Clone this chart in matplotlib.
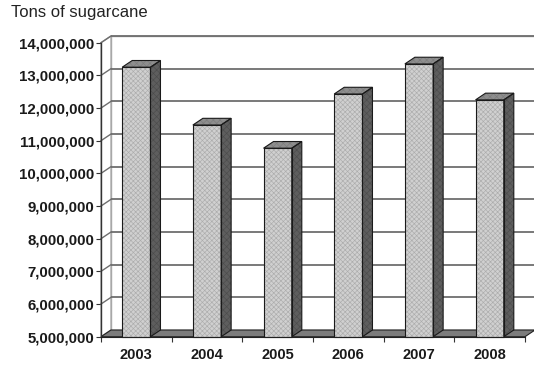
import matplotlib
matplotlib.use("Agg")
import matplotlib.pyplot as plt
from matplotlib.patches import Polygon
from matplotlib.ticker import FuncFormatter, FixedLocator

plt.rcParams['font.family'] = ['Liberation Sans', 'DejaVu Sans']
plt.rcParams['hatch.linewidth'] = 0.45

# Annual sugarcane production
years = ["2003", "2004", "2005", "2006", "2007", "2008"]
tons = [13250000, 11480000, 10770000, 12430000, 13350000, 12250000]
y_ticks = [5000000, 6000000, 7000000, 8000000, 9000000,
           10000000, 11000000, 12000000, 13000000, 14000000]

W, H, DPI = 534, 368, 100
fig = plt.figure(figsize=(W / DPI, H / DPI), dpi=DPI)

# front plane of the 3-D box, in pixels
x0_px, x1_px = 101, 525
ytop_px, ybot_px = 42.7, 336.7
ax = fig.add_axes([x0_px / W, (H - ybot_px) / H,
                   (x1_px - x0_px) / W, (ybot_px - ytop_px) / H])
n = len(years)
ymin, ymax = y_ticks[0], y_ticks[-1]
ax.set_xlim(0, n)
ax.set_ylim(ymin, ymax)

# depth of the box (oblique projection), converted to data units
depth_px = (10.0, 6.7)
ddx = depth_px[0] * n / (x1_px - x0_px)
ddy = depth_px[1] * (ymax - ymin) / (ybot_px - ytop_px)


def poly(pts, **kw):
    p = Polygon(pts, closed=True, clip_on=False, **kw)
    ax.add_patch(p)
    return p


wall_edge = '#a8a8a8'
grid_col = '#6e6e6e'

# back wall and left wall
poly([(ddx, ymin + ddy), (n + ddx, ymin + ddy), (n + ddx, ymax + ddy), (ddx, ymax + ddy)],
     facecolor='white', edgecolor=wall_edge, lw=1.0, zorder=1)
poly([(0, ymin), (ddx, ymin + ddy), (ddx, ymax + ddy), (0, ymax)],
     facecolor='white', edgecolor=wall_edge, lw=1.0, zorder=1)

# gridlines on both walls
for v in y_ticks[1:]:
    ax.plot([ddx, n + ddx], [v + ddy, v + ddy], color=grid_col, lw=1.3,
            clip_on=False, zorder=2, solid_capstyle='butt')
    ax.plot([0, ddx], [v, v + ddy], color=grid_col, lw=1.0,
            clip_on=False, zorder=2)

# floor
poly([(0, ymin), (n, ymin), (n + ddx, ymin + ddy), (ddx, ymin + ddy)],
     facecolor='#7c7c7c', edgecolor='#222222', lw=0.8, zorder=3)

# 3-D columns
bw = 0.4
for i, v in enumerate(tons):
    xl = i + 0.5 - bw / 2
    xr = i + 0.5 + bw / 2
    front = [(xl, ymin), (xr, ymin), (xr, v), (xl, v)]
    side = [(xr, ymin), (xr + ddx, ymin + ddy), (xr + ddx, v + ddy), (xr, v)]
    top = [(xl, v), (xr, v), (xr + ddx, v + ddy), (xl + ddx, v + ddy)]
    poly(front, facecolor='#d0d0d0', edgecolor='#acacac', lw=0, hatch='xxxxxxx', zorder=4)
    poly(front, facecolor='none', edgecolor='#1a1a1a', lw=0.8, zorder=5)
    poly(side, facecolor='#5e5e5e', edgecolor='#4c4c4c', lw=0, hatch='xxxxx', zorder=4)
    poly(side, facecolor='none', edgecolor='#1a1a1a', lw=0.8, zorder=5)
    poly(top, facecolor='#8e8e8e', edgecolor='#7c7c7c', lw=0, hatch='xxxxx', zorder=4)
    poly(top, facecolor='none', edgecolor='#1a1a1a', lw=0.8, zorder=5)

# axes
for s in ['top', 'right']:
    ax.spines[s].set_visible(False)
ax.spines['left'].set_color('#333333')
ax.spines['left'].set_linewidth(1.0)
ax.spines['bottom'].set_color('#222222')
ax.spines['bottom'].set_linewidth(0.8)
ax.spines['left'].set_zorder(6)
ax.spines['bottom'].set_zorder(6)

ax.set_yticks(y_ticks)
ax.yaxis.set_major_formatter(FuncFormatter(lambda v, p: f"{int(round(v)):,}"))
ax.tick_params(axis='y', length=3.5, width=0.8, color='#333333', pad=1.5,
               labelsize=10.8, labelcolor='#1a1a1a')
for t in ax.get_yticklabels():
    t.set_fontweight('bold')

ax.xaxis.set_major_locator(FixedLocator(list(range(n + 1))))
ax.xaxis.set_minor_locator(FixedLocator([i + 0.5 for i in range(n)]))
ax.set_xticklabels([], minor=False)
ax.set_xticklabels(years, minor=True)
ax.tick_params(axis='x', which='major', length=3.5, width=0.8, color='#333333')
ax.tick_params(axis='x', which='minor', length=0, pad=8, labelsize=10.5,
               labelcolor='#1a1a1a')
for t in ax.get_xticklabels(minor=True):
    t.set_fontweight('bold')

fig.text(11 / W, 1 - 13 / H, "Tons of sugarcane", fontsize=12, color='#222222',
         ha='left', va='center')

fig.savefig("out.png", dpi=DPI, facecolor='white')
